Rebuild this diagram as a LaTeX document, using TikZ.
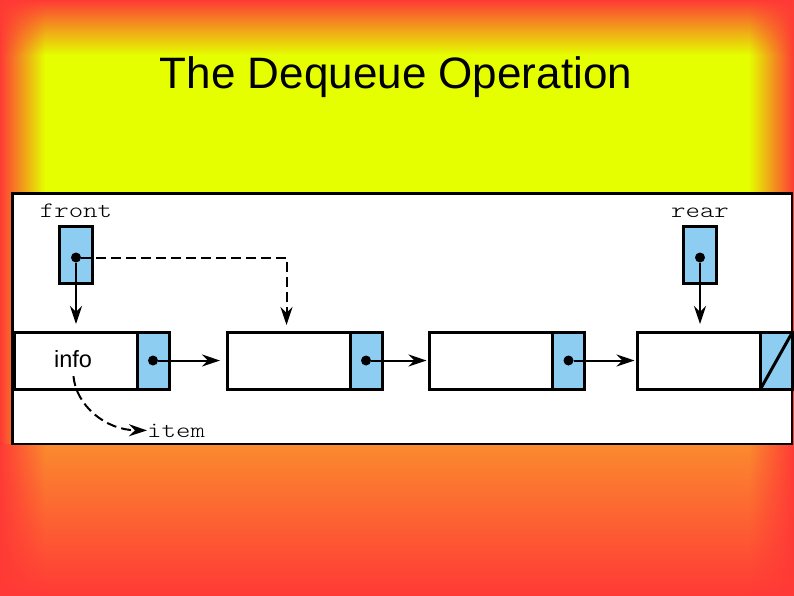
\documentclass[tikz,border=0pt]{standalone}
\usepackage{fontspec}
\setsansfont{Liberation Sans}
\newfontfamily\codefont[FakeStretch=1.25]{lmmonolt10-regular.otf}
\usetikzlibrary{arrows.meta, positioning, fadings}
\definecolor{slidered}{HTML}{FF3A36}
\definecolor{slideyellow}{HTML}{E5FF00}
\definecolor{slideorange}{HTML}{FB8A2E}
\definecolor{cellblue}{HTML}{8DCDF2}
\tikzfading[name=fade right, left color=transparent!0, right color=transparent!100]
\tikzfading[name=fade left, left color=transparent!100, right color=transparent!0]
\tikzfading[name=fade down, top color=transparent!0, bottom color=transparent!100]

\begin{document}
\begin{tikzpicture}[x=1pt, y=-1pt,
  dat/.style={rectangle, draw, line width=3pt, fill=white, outer sep=0pt,
    minimum width=123pt, minimum height=57pt, inner sep=0pt},
  lnk/.style={rectangle, draw, line width=3pt, fill=cellblue, outer sep=0pt,
    minimum width=32pt, minimum height=57pt, inner sep=0pt},
  ptr/.style={lnk, minimum width=33pt},
  ar/.style={-{Stealth[length=18pt, width=12pt, inset=6pt]}, line width=2pt},
  dsh/.style={dash pattern=on 10pt off 5pt},
  lbl/.style={font=\codefont\fontsize{22}{24}\selectfont, inner sep=0pt},
  dot/.style={circle, fill, inner sep=0pt, minimum size=10pt},
]
  \useasboundingbox (0,0) rectangle (794,595);

  % slide background
  \fill[slideyellow] (0,0) rectangle (794,595);
  \shade[top color=slideorange, bottom color=slidered] (0,444) rectangle (794,595);
  \fill[slidered, path fading=fade right] (0,0) rectangle (45,595);
  \fill[slidered, path fading=fade left] (749,0) rectangle (794,595);
  \fill[slidered, path fading=fade down] (0,0) rectangle (794,55);

  \node[font=\sffamily\fontsize{44}{50}\selectfont, anchor=base] (title) at (396,88) {The Dequeue Operation};

  \draw[line width=2.8pt, fill=white] (12.5,193.5) rectangle (792,444);

  % external pointers
  \node[ptr] (fp) at (76,254.5) {};
  \node[ptr] (rp) at (700,254.5) {};
  \node[lbl, above=8pt of fp] (frontlbl) {front};
  \node[lbl, above=8pt of rp] (rearlbl) {rear};
  \node[dot] (fpdot) at ([yshift=-3pt]fp.center) {};
  \node[dot] (rpdot) at ([yshift=-3pt]rp.center) {};

  % list nodes
  \node[dat] (d1) at (75.5,360.5) {};
  \node[lnk, anchor=west] (p1) at (d1.east) {};
  \node[dat] (d2) at (288.5,360.5) {};
  \node[lnk, anchor=west] (p2) at (d2.east) {};
  \node[dat] (d3) at (491,360.5) {};
  \node[lnk, anchor=west] (p3) at (d3.east) {};
  \node[dat] (d4) at (699,360.5) {};
  \node[lnk, anchor=west] (p4) at (d4.east) {};
  \node[dot] (p1dot) at (p1.center) {};
  \node[dot] (p2dot) at (p2.center) {};
  \node[dot] (p3dot) at (p3.center) {};
  \draw[line width=3pt] (p4.south west) -- (p4.north east);

  \node[font=\sffamily\fontsize{23.5}{26}\selectfont] (info) at (73,359) {info};
  \node[lbl, anchor=base west] (item) at (147,437) {item};

  \draw[ar, shorten >=7pt] (p1dot) -- (d2.west);
  \draw[ar, shorten >=3pt] (p2dot) -- (d3.west);
  \draw[ar, shorten >=3pt] (p3dot) -- (d4.west);
  \draw[ar, shorten >=8pt] (fpdot) -- (fpdot |- d1.north);
  \draw[ar, shorten >=8pt] (rpdot) -- (rpdot |- d4.north);
  \draw[ar, dsh, shorten >=7pt] (fpdot) -| ([xshift=-2pt]d2.north);
  \draw[ar, dsh, shorten <=5pt] (info.south) .. controls (76,405) and (105,430) .. (item.west);
\end{tikzpicture}
\end{document}
